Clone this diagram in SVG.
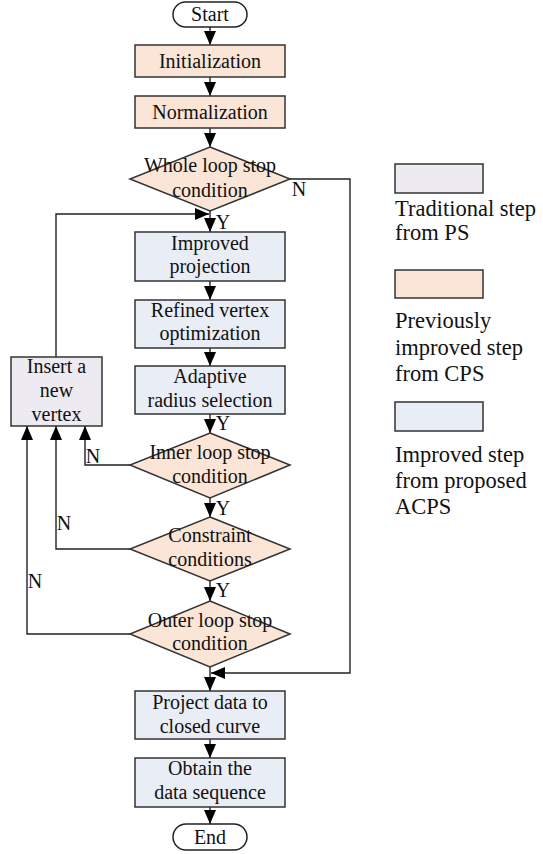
<svg xmlns="http://www.w3.org/2000/svg" width="543" height="854" viewBox="0 0 543 854" font-family="'Liberation Serif', 'Times New Roman', serif">
<defs>
<marker id="ah" markerUnits="userSpaceOnUse" markerWidth="14" markerHeight="12" refX="14" refY="6" orient="auto">
<path d="M0,0 L14,6 L0,12 z" fill="#000"/>
</marker>
<style>
.t{font-size:20px;fill:#111;text-anchor:middle}
.lg{font-size:22.5px;fill:#111}
.pill{fill:#fff;stroke:#222;stroke-width:1.5}
.peach{fill:#FBE5D6;stroke:#333;stroke-width:1.5}
.blue{fill:#E9EDF5;stroke:#333;stroke-width:1.5}
.lav{fill:#EDEAF2;stroke:#333;stroke-width:1.5}
.c{fill:none;stroke:#222;stroke-width:1.4;marker-end:url(#ah)}
</style>
</defs>
<rect width="543" height="854" fill="#fff"/>
<g id="connectors">
<path class="c" d="M210,27 V45"/>
<path class="c" d="M210,77 V96"/>
<path class="c" d="M210,128 V147"/>
<path class="c" d="M210,211 V232"/>
<path class="c" d="M210,281 V300"/>
<path class="c" d="M210,348 V366"/>
<path class="c" d="M210,414 V433"/>
<path class="c" d="M210,498 V517"/>
<path class="c" d="M210,581 V601"/>
<path class="c" d="M210,667 V691"/>
<path class="c" d="M210,739 V758"/>
<path class="c" d="M210,807 V824"/>
<path class="c" d="M290,179 H350 V673 H211"/>
<path class="c" d="M56,357 V214 H209"/>
<path class="c" d="M130,465 H85 V426"/>
<path class="c" d="M130,549 H56 V426"/>
<path class="c" d="M130,634 H27 V426"/>
<text class="t" x="299" y="196">N</text>
<text class="t" x="223" y="229">Y</text>
<text class="t" x="223" y="430">Y</text>
<text class="t" x="223" y="515">Y</text>
<text class="t" x="223" y="597">Y</text>
<text class="t" x="93" y="463">N</text>
<text class="t" x="64" y="530">N</text>
<text class="t" x="35" y="588">N</text>
</g>
<g id="start"><rect class="pill" x="173" y="2" width="74" height="25" rx="12.5"/><text class="t" x="210" y="21">Start</text></g>
<g id="init"><rect class="peach" x="135" y="45" width="150" height="32"/><text class="t" x="210" y="67.5">Initialization</text></g>
<g id="norm"><rect class="peach" x="135" y="96" width="150" height="32"/><text class="t" x="210" y="118.5">Normalization</text></g>
<g id="whole"><polygon class="peach" points="210,147 290,179 210,211 130,179"/><text class="t" x="210" y="172">Whole loop stop</text><text class="t" x="210" y="197">condition</text></g>
<g id="improved"><rect class="blue" x="135" y="232" width="150" height="49"/><text class="t" x="210" y="250">Improved</text><text class="t" x="210" y="273">projection</text></g>
<g id="refined"><rect class="blue" x="135" y="300" width="150" height="48"/><text class="t" x="210" y="317">Refined vertex</text><text class="t" x="210" y="340">optimization</text></g>
<g id="adaptive"><rect class="blue" x="135" y="366" width="150" height="48"/><text class="t" x="210" y="383">Adaptive</text><text class="t" x="210" y="406.5">radius selection</text></g>
<g id="insert"><rect class="lav" x="11" y="357" width="91" height="69"/><text class="t" x="56.5" y="373">Insert a</text><text class="t" x="56.5" y="397">new</text><text class="t" x="56.5" y="421">vertex</text></g>
<g id="inner"><polygon class="peach" points="210,433 290,465 210,498 130,465"/><text class="t" x="210" y="458.5">Inner loop stop</text><text class="t" x="210" y="483">condition</text></g>
<g id="constraint"><polygon class="peach" points="210,517 290,549 210,581 130,549"/><text class="t" x="210" y="542">Constraint</text><text class="t" x="210" y="566">conditions</text></g>
<g id="outer"><polygon class="peach" points="210,601 290,634 210,667 130,634"/><text class="t" x="210" y="627">Outer loop stop</text><text class="t" x="210" y="650">condition</text></g>
<g id="project"><rect class="blue" x="135" y="691" width="150" height="48"/><text class="t" x="210" y="708.5">Project data to</text><text class="t" x="210" y="732.5">closed curve</text></g>
<g id="obtain"><rect class="blue" x="135" y="758" width="150" height="49"/><text class="t" x="210" y="775">Obtain the</text><text class="t" x="210" y="799">data sequence</text></g>
<g id="end"><rect class="pill" x="173" y="824" width="74" height="26" rx="13"/><text class="t" x="210" y="843.5">End</text></g>
<g id="legend">
<rect class="lav" x="395" y="164" width="88" height="29"/>
<text class="lg" x="395" y="216">Traditional step</text>
<text class="lg" x="395" y="240">from PS</text>
<rect class="peach" x="395" y="270" width="88" height="28"/>
<text class="lg" x="395" y="328">Previously</text>
<text class="lg" x="395" y="355">improved step</text>
<text class="lg" x="395" y="381">from CPS</text>
<rect class="blue" x="395" y="402" width="88" height="29"/>
<text class="lg" x="395" y="462">Improved step</text>
<text class="lg" x="395" y="488">from proposed</text>
<text class="lg" x="395" y="514">ACPS</text>
</g>
</svg>
